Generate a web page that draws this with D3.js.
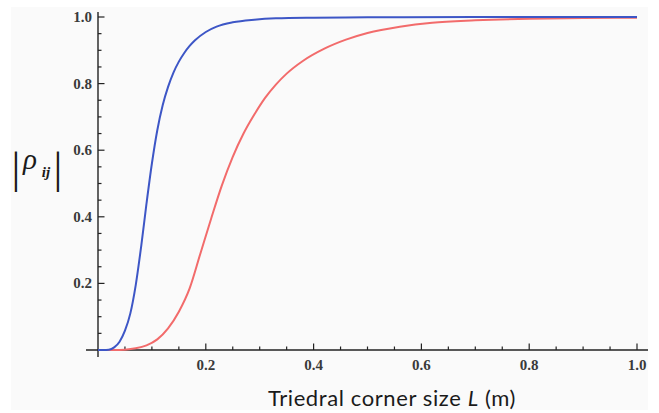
<!DOCTYPE html>
<html>
<head>
<meta charset="utf-8">
<script src="https://cdn.jsdelivr.net/npm/d3@7"></script>
<style>
  html, body { margin: 0; padding: 0; background: #ffffff; }
  svg { display: block; }
</style>
</head>
<body>
<svg id="chart" width="659" height="413"></svg>
<script>
// ---- data ----
const blueL = [0, 0.010, 0.020, 0.030, 0.040, 0.050, 0.060, 0.070, 0.080, 0.090, 0.100, 0.110, 0.120, 0.130, 0.140, 0.150, 0.160, 0.170, 0.180, 0.200, 0.220, 0.250, 0.290, 0.330, 0.400, 0.500, 0.700, 1.000];
const blueRho = [0, 0.000, 0.001, 0.008, 0.025, 0.058, 0.110, 0.195, 0.310, 0.440, 0.560, 0.660, 0.735, 0.790, 0.833, 0.866, 0.892, 0.913, 0.930, 0.955, 0.971, 0.984, 0.992, 0.996, 0.998, 0.999, 1.000, 1.000];

const redL = [0, 0.030, 0.050, 0.070, 0.090, 0.110, 0.130, 0.150, 0.170, 0.190, 0.210, 0.230, 0.250, 0.270, 0.290, 0.310, 0.330, 0.350, 0.380, 0.420, 0.460, 0.500, 0.560, 0.620, 0.700, 0.800, 0.900, 1.000];
const redRho = [0, 0.000, 0.001, 0.005, 0.014, 0.032, 0.065, 0.115, 0.185, 0.290, 0.395, 0.495, 0.580, 0.650, 0.707, 0.757, 0.797, 0.830, 0.868, 0.905, 0.932, 0.952, 0.971, 0.983, 0.990, 0.995, 0.997, 0.998];

const xMajorTicks = [0.2, 0.4, 0.6, 0.8, 1.0];
const yMajorTicks = [0.2, 0.4, 0.6, 0.8, 1.0];
const tickLabels = ["0.2", "0.4", "0.6", "0.8", "1.0"];
const xTitle = "Triedral corner size ";
const xTitleItalic = "L";
const xTitleUnit = " (m)";

// ---- layout ----
const svg = d3.select("#chart");
const x = d3.scaleLinear().domain([0, 1]).range([98, 637]);
const y = d3.scaleLinear().domain([0, 1]).range([350, 17]);

// soft background panel
svg.append("rect").attr("x", 11).attr("y", 7).attr("width", 637).attr("height", 403)
  .attr("fill", "#fafafa");

const axisColor = "#222";
const labelColor = "#3a3a3a";

// axes lines
svg.append("line").attr("x1", x(0) - 12).attr("x2", x(1) + 11)
  .attr("y1", y(0)).attr("y2", y(0)).attr("stroke", axisColor).attr("stroke-width", 1.4);
svg.append("line").attr("x1", x(0)).attr("x2", x(0))
  .attr("y1", y(1) - 5).attr("y2", y(0) + 7).attr("stroke", axisColor).attr("stroke-width", 1.4);

// ticks
const minor = d3.range(1, 21).map(i => i * 0.05);
const isMajor = v => Math.abs(v * 5 - Math.round(v * 5)) < 1e-6;

svg.append("g").selectAll("line").data(minor).join("line")
  .attr("x1", d => x(d)).attr("x2", d => x(d))
  .attr("y1", y(0)).attr("y2", d => y(0) - (isMajor(d) ? 6.5 : 3.5))
  .attr("stroke", axisColor).attr("stroke-width", 1.2);

svg.append("g").selectAll("line").data(minor).join("line")
  .attr("y1", d => y(d)).attr("y2", d => y(d))
  .attr("x1", x(0)).attr("x2", d => x(0) + (isMajor(d) ? 6.5 : 3.5))
  .attr("stroke", axisColor).attr("stroke-width", 1.2);

// tick labels
svg.append("g").selectAll("text").data(xMajorTicks).join("text")
  .attr("x", d => x(d)).attr("y", y(0) + 20)
  .attr("text-anchor", "middle")
  .attr("font-family", "'Liberation Serif', 'DejaVu Serif', serif")
  .attr("font-size", 15).attr("font-weight", "bold")
  .attr("fill", labelColor)
  .text((d, i) => tickLabels[i]);

svg.append("g").selectAll("text").data(yMajorTicks).join("text")
  .attr("x", x(0) - 6).attr("y", d => y(d) + 5)
  .attr("text-anchor", "end")
  .attr("font-family", "'Liberation Serif', 'DejaVu Serif', serif")
  .attr("font-size", 15).attr("font-weight", "bold")
  .attr("fill", labelColor)
  .text((d, i) => tickLabels[i]);

// curves
const line = (Ls, Vs) => d3.line().curve(d3.curveMonotoneX)
  .x(i => x(Ls[i])).y(i => y(Vs[i]))(d3.range(Ls.length));

svg.append("path").attr("d", line(redL, redRho))
  .attr("fill", "none").attr("stroke", "#f26b6b").attr("stroke-width", 2);
svg.append("path").attr("d", line(blueL, blueRho))
  .attr("fill", "none").attr("stroke", "#3d56c6").attr("stroke-width", 2);

// x axis title
const xt = svg.append("text")
  .attr("x", 392).attr("y", 406)
  .attr("text-anchor", "middle")
  .attr("font-family", "Lato, 'Open Sans', sans-serif")
  .attr("font-size", 22).attr("letter-spacing", 0.6).attr("fill", "#1a1a1a");
xt.append("tspan").text(xTitle);
xt.append("tspan").attr("font-style", "italic").text(xTitleItalic);
xt.append("tspan").text(xTitleUnit);

// y axis title |rho_ij|
const yl = svg.append("g").attr("fill", "#1a1a1a")
  .attr("font-family", "'Liberation Serif', 'DejaVu Serif', serif");
yl.append("text").attr("x", 16).attr("y", 183).attr("text-anchor", "middle")
  .attr("font-size", 44).attr("font-weight", "300").text("|");
yl.append("text").attr("x", 30).attr("y", 169).attr("text-anchor", "middle")
  .attr("font-size", 29).attr("font-style", "italic").text("ρ");
yl.append("text").attr("x", 46).attr("y", 177).attr("text-anchor", "middle")
  .attr("font-size", 15).attr("font-style", "italic").attr("font-weight", "bold").text("ij");
yl.append("text").attr("x", 58).attr("y", 183).attr("text-anchor", "middle")
  .attr("font-size", 44).attr("font-weight", "300").text("|");
</script>
</body>
</html>
